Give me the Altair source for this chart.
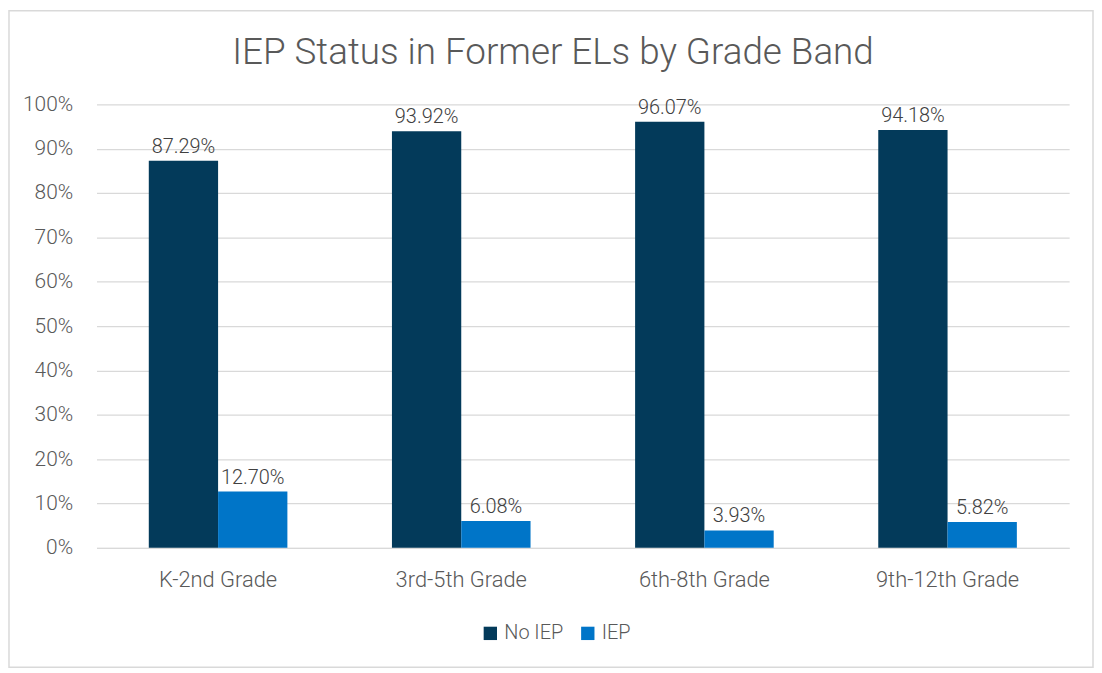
import altair as alt
import pandas as pd

grades = ["K-2nd Grade", "3rd-5th Grade", "6th-8th Grade", "9th-12th Grade"]
no_iep = [87.29, 93.92, 96.07, 94.18]
iep = [12.70, 6.08, 3.93, 5.82]
series = ["No IEP", "IEP"]
colors = ["#033A5A", "#0075C8"]

rows = []
for g, a, b in zip(grades, no_iep, iep):
    rows.append({"grade": g, "status": "No IEP", "value": a / 100, "label": f"{a:.2f}%"})
    rows.append({"grade": g, "status": "IEP", "value": b / 100, "label": f"{b:.2f}%"})
df = pd.DataFrame(rows)

W, H = 978, 446
FONT = "Roboto"

x = alt.X("grade:N", sort=grades, title=None,
          scale=alt.Scale(paddingInner=0.43, paddingOuter=0.215),
          axis=alt.Axis(labelAngle=0, labelFontSize=22, labelColor="#595959", labelFont=FONT,
                        labelFontWeight=300, labelPadding=22, domain=True, domainColor="#d9d9d9",
                        ticks=False))
y = alt.Y("value:Q", title=None,
          scale=alt.Scale(domain=[0, 1], nice=False),
          axis=alt.Axis(format=".0%", values=[i / 10 for i in range(11)], labelFontSize=21,
                        labelColor="#595959", labelFont=FONT, labelFontWeight=300, labelPadding=24,
                        domain=False, ticks=False, gridColor="#d9d9d9", gridWidth=1.3))
xo = alt.XOffset("status:N", sort=series)

bars = alt.Chart(df).mark_bar().encode(
    x=x, y=y, xOffset=xo,
    color=alt.Color("status:N", sort=series,
                    scale=alt.Scale(domain=series, range=colors),
                    legend=alt.Legend(title=None, orient="none", legendX=386, legendY=522,
                                      direction="horizontal", symbolType="square", symbolSize=180,
                                      symbolStrokeWidth=0, labelFontSize=20, labelColor="#595959",
                                      labelFont=FONT, labelFontWeight=300, columnPadding=14,
                                      labelOffset=4)),
)

labels = alt.Chart(df).mark_text(baseline="bottom", dy=-4, fontSize=20, color="#404040",
                                 font=FONT, fontWeight=300).encode(
    x=x, y=y, xOffset=xo, text="label:N"
)

border = alt.Chart(pd.DataFrame({"k": [0]})).mark_rect(
    fill=None, stroke="#d9d9d9", strokeWidth=1.5
).encode(x=alt.value(-88), x2=alt.value(1002), y=alt.value(-94), y2=alt.value(566))

chart = alt.layer(border, bars, labels).properties(
    width=W, height=H,
    title=alt.TitleParams("IEP Status in Former ELs by Grade Band", fontSize=37, font=FONT,
                          fontWeight=300, color="#595959", anchor="middle", offset=-57, dx=-30,
                          dy=5),
    autosize=alt.AutoSizeParams(type="none"),
    padding={"left": 89, "top": 95, "right": 25, "bottom": 122},
).configure_view(stroke=None)

chart.save("out.html", embed_options={"renderer": "svg", "actions": False})
